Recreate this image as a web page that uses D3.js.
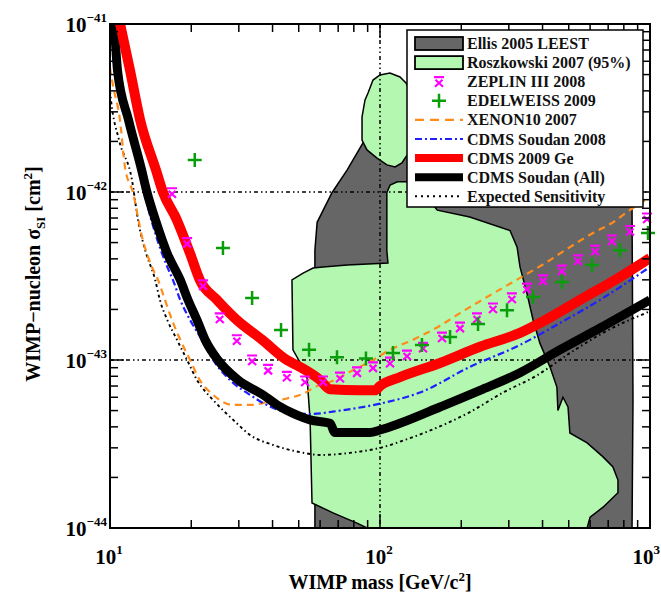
<!DOCTYPE html>
<html>
<head>
<meta charset="utf-8">
<script src="https://cdn.jsdelivr.net/npm/d3@7"></script>
<style>
  html, body { margin: 0; padding: 0; background: #fff; }
  svg { display: block; }
  text { font-family: "Liberation Serif", "Times New Roman", serif; font-weight: bold; }
</style>
</head>
<body>
<svg id="chart" width="661" height="595"></svg>
<script>
// ---- Exclusion limits on spin-independent WIMP-nucleon cross section ----
// Masses in GeV/c^2, cross sections in cm^2.

// Ellis 2005 LEEST (shaded grey region)
const ellisMass  = [57.4, 57.4, 58.5, 66.4, 75.5, 86.5, 104.4, 843, 858, 865, 858];
const ellisSigma = [1e-44, 4.5e-43, 6.6e-43, 9.9e-43, 1.35e-42, 1.96e-42, 3.5e-42, 3.5e-42, 7.8e-43, 5.8e-44, 1e-44];

// Roszkowski 2007 (95%) - main region
const roszMass  = [47.2, 47.6, 50.5, 53.7, 55.1, 56.0, 67.0, 82.2, 89.5, 585, 600, 670, 761, 761, 729, 670, 585, 505,
                   497, 476, 456, 452, 426, 391, 369, 350, 330, 322, 303, 215, 163, 141, 126, 116, 109, 106, 106, 107,
                   75.5, 61.5, 56.5, 51.9];
const roszSigma = [3.0e-43, 1.15e-43, 9.7e-44, 7.8e-44, 4.4e-44, 1.41e-44, 1.23e-44, 1.07e-44, 1e-44, 1e-44, 1.16e-44,
                   1.33e-44, 1.62e-44, 1.93e-44, 2.31e-44, 2.65e-44, 3.21e-44, 3.68e-44, 5.25e-44, 6.0e-44, 5.0e-44,
                   6.9e-44, 9.1e-44, 1.26e-43, 1.73e-43, 2.5e-43, 3.58e-43, 4.7e-43, 5.9e-43, 7.1e-43, 7.8e-43,
                   1.03e-42, 1.15e-42, 1.15e-42, 1.1e-42, 9.9e-43, 4.5e-43, 3.78e-43, 3.68e-43, 3.58e-43, 3.53e-43, 3.29e-43];

// Roszkowski 2007 (95%) - upper island
const roszIslandMass  = [85.8, 85.8, 88.0, 90.3, 94.2, 100, 108.9, 118.6, 124.8, 140.6, 140.6, 124.8, 120.6, 113.7, 106.1, 97.5, 89.5];
const roszIslandSigma = [2.04e-42, 2.8e-42, 3.53e-42, 3.88e-42, 4.64e-42, 4.97e-42, 5.11e-42, 4.84e-42, 4.46e-42, 3.08e-42,
                         2.04e-42, 1.62e-42, 1.49e-42, 1.41e-42, 1.45e-42, 1.59e-42, 1.78e-42];

// ZEPLIN III 2008 (markers)
const zeplinMass  = [16.97, 19.3, 22.1, 25.5, 29.5, 33.6, 38.5, 45.2, 52.8, 61.5, 71.1, 82.2, 94.2, 108.9, 125.9, 144.3,
                     169.7, 197.8, 228.7, 262, 308, 350, 401.6, 472, 541, 626, 723, 843, 975];
const zeplinSigma = [9.9e-43, 5.0e-43, 2.8e-43, 1.78e-43, 1.32e-43, 1.0e-43, 8.8e-44, 8.0e-44, 7.5e-44, 7.5e-44, 7.9e-44,
                     8.5e-44, 9.1e-44, 9.7e-44, 1.07e-43, 1.19e-43, 1.37e-43, 1.57e-43, 1.78e-43, 2.04e-43, 2.34e-43,
                     2.68e-43, 3.0e-43, 3.43e-43, 3.94e-43, 4.5e-43, 5.18e-43, 5.9e-43, 7.0e-43];

// EDELWEISS 2009 (markers)
const edelMass  = [20.6, 26.2, 33.6, 43.0, 54.6, 69.3, 88.7, 111.7, 143, 181.7, 230.7, 295.4, 368.7, 472, 610, 774, 983];
const edelSigma = [1.55e-42, 4.64e-43, 2.34e-43, 1.51e-43, 1.15e-43, 1.04e-43, 1.02e-43, 1.1e-43, 1.23e-43, 1.37e-43,
                   1.64e-43, 1.98e-43, 2.37e-43, 2.91e-43, 3.68e-43, 4.5e-43, 5.7e-43];

// XENON10 2007
const xenonMass  = [10.0, 10.09, 10.26, 10.89, 11.36, 12.17, 13.14, 14.3, 15.06, 15.98, 16.97, 18.2, 19.8, 21.5, 24.1,
                    28.6, 33.0, 38.1, 45.2, 51.9, 58.5, 65.3, 79.4, 94.2, 108.9, 132.6, 166.8, 197.8, 249, 330, 415.5,
                    505, 615, 729, 822, 1000];
const xenonSigma = [5.5e-42, 4.97e-42, 4.3e-42, 2.68e-42, 1.41e-42, 9.9e-43, 5.4e-43, 3.58e-43, 3.0e-43, 2.28e-43,
                    1.73e-43, 1.32e-43, 1.0e-43, 7.6e-44, 6.2e-44, 5.4e-44, 5.4e-44, 5.6e-44, 5.9e-44, 6.3e-44, 7.0e-44,
                    7.4e-44, 8.7e-44, 1.0e-43, 1.15e-43, 1.32e-43, 1.6e-43, 1.9e-43, 2.37e-43, 3.08e-43, 3.83e-43,
                    4.7e-43, 5.7e-43, 6.6e-43, 7.6e-43, 9.3e-43];

// CDMS Soudan 2008
const soudan08Mass  = [10.0, 10.17, 11.17, 11.86, 13.02, 13.82, 14.7, 16.3, 17.1, 18.2, 19.8, 21.9, 24.1, 27.8, 33.0,
                       38.1, 45.2, 55.1, 71.1, 100, 140.6, 215.4, 330, 464, 653, 1000];
const soudan08Sigma = [1.1e-41, 9.2e-42, 4.05e-42, 2.57e-42, 1.26e-42, 8.1e-43, 5.7e-43, 3.58e-43, 3.0e-43, 2.28e-43,
                       1.73e-43, 1.32e-43, 1.0e-43, 7.6e-44, 6.2e-44, 5.4e-44, 4.9e-44, 4.77e-44, 5.0e-44, 5.5e-44,
                       6.4e-44, 9.1e-44, 1.23e-43, 1.66e-43, 2.28e-43, 3.58e-43];

// CDMS 2009 Ge
const cdmsGeMass  = [10.6, 10.9, 11.86, 12.92, 14.8, 15.7, 17.7, 19.8, 21.5, 24.9, 29.5, 36.6, 45.2, 50.5, 60, 65.3,
                     84.3, 95.8, 100, 118.6, 166.8, 234.6, 330, 391, 551, 774, 1000];
const cdmsGeSigma = [1.24e-41, 1.0e-41, 5.3e-42, 2.7e-42, 1.35e-42, 1.0e-42, 6.8e-43, 4.3e-43, 3.0e-43, 2.28e-43,
                     1.73e-43, 1.32e-43, 1.0e-43, 9.1e-44, 7.6e-44, 6.7e-44, 6.6e-44, 6.6e-44, 7.0e-44, 7.9e-44,
                     9.6e-44, 1.2e-43, 1.45e-43, 1.66e-43, 2.28e-43, 3.12e-43, 4.05e-43];

// CDMS Soudan (All)
const soudanAllMass  = [10.1, 10.35, 10.66, 11.7, 13.1, 13.7, 14.74, 16.3, 18.2, 19.45, 21.0, 22.5, 25.1, 29.8, 36.9,
                        41.6, 49.3, 55.1, 65.3, 68.1, 91.8, 100, 118.6, 166.8, 234.6, 330, 464, 653, 1000];
const soudanAllSigma = [1.3e-41, 1.0e-41, 5.3e-42, 2.7e-42, 1.35e-42, 1.0e-42, 6.8e-43, 4.3e-43, 3.0e-43, 2.28e-43,
                        1.73e-43, 1.32e-43, 1.0e-43, 7.6e-44, 6.2e-44, 5.4e-44, 4.7e-44, 4.4e-44, 4.2e-44, 3.7e-44,
                        3.7e-44, 3.83e-44, 4.2e-44, 5.25e-44, 6.6e-44, 8.4e-44, 1.15e-43, 1.55e-43, 2.28e-43];

// Expected sensitivity
const expectedMass  = [10.0, 10.09, 10.8, 12.06, 12.7, 13.5, 14.7, 15.3, 16.3, 17.7, 19.3, 21.0, 24.1, 28.6, 33.0,
                       40.2, 50.5, 60.0, 77.4, 100, 132.6, 177, 215.4, 285.5, 381.5, 505, 670, 1000];
const expectedSigma = [4.0e-42, 3.5e-42, 2.04e-42, 1.18e-42, 6.8e-43, 4.5e-43, 3.0e-43, 2.28e-43, 1.73e-43, 1.32e-43,
                       1.0e-43, 7.6e-44, 5.78e-44, 4.4e-44, 3.58e-44, 3.12e-44, 2.83e-44, 2.72e-44, 2.8e-44, 3.0e-44,
                       3.48e-44, 4.2e-44, 4.9e-44, 6.4e-44, 8.1e-44, 1.1e-43, 1.45e-43, 1.95e-43];

// Axis decades and labels
const xDecades = [10, 100, 1000];
const xExponents = ["1", "2", "3"];
const yDecades = [1e-41, 1e-42, 1e-43, 1e-44];
const yExponents = ["\u221241", "\u221242", "\u221243", "\u221244"];
const gridX = [100];
const gridY = [1e-42, 1e-43];

const legendLabels = ["Ellis 2005 LEEST", "Roszkowski 2007 (95%)", "ZEPLIN III 2008", "EDELWEISS 2009",
                      "XENON10 2007", "CDMS Soudan 2008", "CDMS 2009 Ge", "CDMS Soudan (All)", "Expected Sensitivity"];

// ---- Layout ----
const svg = d3.select("#chart");
const L = 110, R = 650, T = 24, B = 528;
const x = d3.scaleLog().domain([10, 1000]).range([L, R]);
const y = d3.scaleLog().domain([1e-44, 1e-41]).range([B, T]);

const zip = (a, b) => a.map((v, i) => [v, b[i]]);

const colors = {
  grey: "#666666", green: "#b3f7b0", zeplin: "#ff00ff", edel: "#0a9e0a",
  xenon: "#ff8c1a", soudan08: "#1f1fff", ge: "#ff0000", all: "#000000"
};

svg.append("rect").attr("width", 661).attr("height", 595).attr("fill", "#fff");

svg.append("defs").append("clipPath").attr("id", "plotClip")
  .append("rect").attr("x", L).attr("y", T).attr("width", R - L).attr("height", B - T);

const plot = svg.append("g").attr("clip-path", "url(#plotClip)");

const area = d3.line().x(d => x(d[0])).y(d => y(d[1])).curve(d3.curveLinearClosed);
const curve = d3.line().x(d => x(d[0])).y(d => y(d[1])).curve(d3.curveMonotoneX);

// Regions
plot.append("path").attr("d", area(zip(ellisMass, ellisSigma)))
  .attr("fill", colors.grey).attr("stroke", "#000").attr("stroke-width", 1.5);
plot.append("path").attr("d", area(zip(roszMass, roszSigma)))
  .attr("fill", colors.green).attr("stroke", "#000").attr("stroke-width", 1.5);
plot.append("path").attr("d", area(zip(roszIslandMass, roszIslandSigma)))
  .attr("fill", colors.green).attr("stroke", "#000").attr("stroke-width", 1.5);

// Grid lines
const gridDash = "4,3,1.5,3,1.5,3";
plot.selectAll(".gx").data(gridX).join("line")
  .attr("x1", d => x(d)).attr("x2", d => x(d)).attr("y1", T).attr("y2", B)
  .attr("stroke", "#000").attr("stroke-width", 1.5).attr("stroke-dasharray", gridDash);
plot.selectAll(".gy").data(gridY).join("line")
  .attr("x1", L).attr("x2", R).attr("y1", d => y(d)).attr("y2", d => y(d))
  .attr("stroke", "#000").attr("stroke-width", 1.5).attr("stroke-dasharray", gridDash);

// Limit curves
const series = [
  { m: expectedMass, s: expectedSigma, color: "#000", width: 1.9, dash: "3,3,1.5,3" },
  { m: xenonMass, s: xenonSigma, color: colors.xenon, width: 2.2, dash: "7,5" },
  { m: soudan08Mass, s: soudan08Sigma, color: colors.soudan08, width: 2.2, dash: "7,3,2,3" },
  { m: soudanAllMass, s: soudanAllSigma, color: colors.all, width: 9, dash: null },
  { m: cdmsGeMass, s: cdmsGeSigma, color: colors.ge, width: 10, dash: null }
];
series.forEach(sr => {
  plot.append("path").attr("d", curve(zip(sr.m, sr.s)))
    .attr("fill", "none").attr("stroke", sr.color).attr("stroke-width", sr.width)
    .attr("stroke-dasharray", sr.dash);
});

// Marker shapes
const zeplinGlyph = "M-5,-4.5H5M-3.5,-2L4,5M3.5,-2L-4,5";
const plusGlyph = "M-7,0H7M0,-7V7";

svg.append("g").selectAll("path").data(zip(zeplinMass, zeplinSigma)).join("path")
  .attr("transform", d => `translate(${x(d[0])},${y(d[1])})`)
  .attr("d", zeplinGlyph).attr("fill", "none").attr("stroke", colors.zeplin).attr("stroke-width", 2.2);

svg.append("g").selectAll("path").data(zip(edelMass, edelSigma)).join("path")
  .attr("transform", d => `translate(${x(d[0])},${y(d[1])})`)
  .attr("d", plusGlyph).attr("fill", "none").attr("stroke", colors.edel).attr("stroke-width", 2.5);

// Ticks (inward on all four sides)
const xTicks = x.ticks();
const yTicks = y.ticks();
const isDecade = v => Math.abs(Math.log10(v) - Math.round(Math.log10(v))) < 1e-6;
const tickLen = v => isDecade(v) ? 14 : 8;
const ticks = svg.append("g").attr("stroke", "#000").attr("stroke-width", 1.5);
xTicks.forEach(v => {
  ticks.append("line").attr("x1", x(v)).attr("x2", x(v)).attr("y1", B).attr("y2", B - tickLen(v));
  ticks.append("line").attr("x1", x(v)).attr("x2", x(v)).attr("y1", T).attr("y2", T + tickLen(v));
});
yTicks.forEach(v => {
  ticks.append("line").attr("x1", L).attr("x2", L + tickLen(v)).attr("y1", y(v)).attr("y2", y(v));
  ticks.append("line").attr("x1", R).attr("x2", R - tickLen(v)).attr("y1", y(v)).attr("y2", y(v));
});

// Legend
const lg = svg.append("g");
const lgX = 407, lgY = 30, lgW = 236, lgH = 177, rowH = 19.1, row0 = 43.5;
lg.append("rect").attr("x", lgX).attr("y", lgY).attr("width", lgW).attr("height", lgH)
  .attr("fill", "#fff").attr("stroke", "#000").attr("stroke-width", 1.5);
const sx0 = 415, sx1 = 463, sxc = (sx0 + sx1) / 2;
const rowY = i => row0 + i * rowH;
lg.append("rect").attr("x", sx0).attr("y", rowY(0) - 6.5).attr("width", sx1 - sx0).attr("height", 13)
  .attr("fill", colors.grey).attr("stroke", "#000").attr("stroke-width", 1.8);
lg.append("rect").attr("x", sx0).attr("y", rowY(1) - 6.5).attr("width", sx1 - sx0).attr("height", 13)
  .attr("fill", colors.green).attr("stroke", "#000").attr("stroke-width", 1.8);
lg.append("path").attr("transform", `translate(${sxc},${rowY(2)})`).attr("d", zeplinGlyph)
  .attr("fill", "none").attr("stroke", colors.zeplin).attr("stroke-width", 2.2);
lg.append("path").attr("transform", `translate(${sxc},${rowY(3)})`).attr("d", plusGlyph)
  .attr("fill", "none").attr("stroke", colors.edel).attr("stroke-width", 2.5);
const legendLines = [
  { row: 4, color: colors.xenon, width: 2.2, dash: "9,6" },
  { row: 5, color: colors.soudan08, width: 2.2, dash: "7,3,2,3" },
  { row: 6, color: colors.ge, width: 8, dash: null },
  { row: 7, color: colors.all, width: 8, dash: null },
  { row: 8, color: "#000", width: 2, dash: "2,4" }
];
legendLines.forEach(l => {
  lg.append("line").attr("x1", sx0).attr("x2", sx1).attr("y1", rowY(l.row)).attr("y2", rowY(l.row))
    .attr("stroke", l.color).attr("stroke-width", l.width).attr("stroke-dasharray", l.dash);
});
lg.selectAll("text").data(legendLabels).join("text")
  .attr("x", 467).attr("y", (d, i) => rowY(i) + 5.5)
  .attr("font-size", 16).attr("fill", "#111").text(d => d);

// Frame
svg.append("rect").attr("x", L).attr("y", T).attr("width", R - L).attr("height", B - T)
  .attr("fill", "none").attr("stroke", "#000").attr("stroke-width", 2);

// Tick labels
xDecades.forEach((v, i) => {
  const last = i === xDecades.length - 1;
  const t = svg.append("text").attr("x", last ? 660 : x(v) - 1).attr("y", 564)
    .attr("text-anchor", last ? "end" : "middle").attr("font-size", 21);
  t.append("tspan").text("10");
  t.append("tspan").attr("dy", -10).attr("font-size", 13).text(xExponents[i]);
});
yDecades.forEach((v, i) => {
  const t = svg.append("text").attr("x", 107).attr("y", y(v) + 8)
    .attr("text-anchor", "end").attr("font-size", 21);
  t.append("tspan").text("10");
  t.append("tspan").attr("dy", -10).attr("font-size", 13).text(yExponents[i]);
});

// Axis titles
const xt = svg.append("text").attr("x", 380).attr("y", 589).attr("text-anchor", "middle").attr("font-size", 20);
xt.append("tspan").text("WIMP mass [GeV/c");
xt.append("tspan").attr("dy", -8).attr("font-size", 13).text("2");
xt.append("tspan").attr("dy", 8).text("]");

const yt = svg.append("text").attr("transform", "translate(40,274) rotate(-90)")
  .attr("text-anchor", "middle").attr("font-size", 20);
yt.append("tspan").text("WIMP\u2212nucleon \u03c3");
yt.append("tspan").attr("dy", 5).attr("font-size", 13).text("SI");
yt.append("tspan").attr("dy", -5).text(" [cm");
yt.append("tspan").attr("dy", -8).attr("font-size", 13).text("2");
yt.append("tspan").attr("dy", 8).text("]");
</script>
</body>
</html>
